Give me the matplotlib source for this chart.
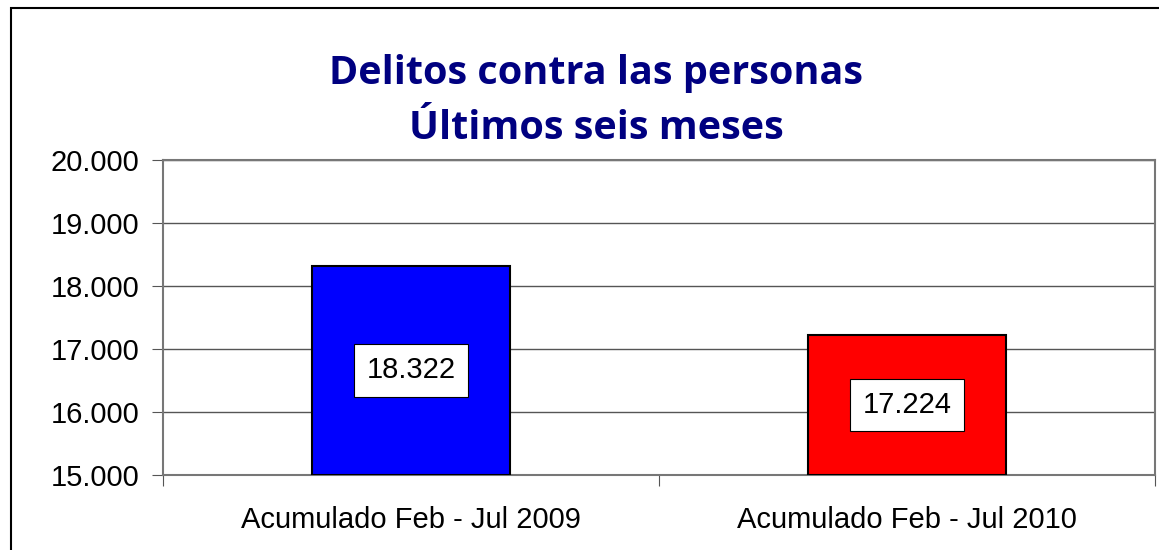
import matplotlib
matplotlib.use('Agg')
import matplotlib.pyplot as plt
from matplotlib.patches import Rectangle

# datos
categorias = ['Acumulado Feb - Jul 2009', 'Acumulado Feb - Jul 2010']
valores = [18322, 17224]
etiquetas = ['18.322', '17.224']
colores = ['#0000FF', '#FF0000']
yticks = [15000, 16000, 17000, 18000, 19000, 20000]
ytick_labels = ['15.000', '16.000', '17.000', '18.000', '19.000', '20.000']
titulo = 'Delitos contra las personas\nÚltimos seis meses'

plt.rcParams['font.family'] = ['Liberation Sans', 'DejaVu Sans']

W, H = 1159, 550
fig = plt.figure(figsize=(W / 100, H / 100), dpi=100)

# borde del area del grafico
fig.patches.append(Rectangle((11 / W, -0.1), 1.2, 1 - 8 / H + 0.1,
                             transform=fig.transFigure, fill=False,
                             edgecolor='black', linewidth=1.5))

ax = fig.add_axes([163 / W, 1 - 475 / H, (1155 - 163) / W, (475 - 160) / H])

x = [0.5, 1.5]
ax.bar(x, [v - 15000 for v in valores], bottom=15000, width=0.4,
       color=colores, edgecolor='black', linewidth=1.5, zorder=3)

for xi, v, lab in zip(x, valores, etiquetas):
    ax.text(xi, (15000 + v) / 2, lab, ha='center', va='center', fontsize=21,
            zorder=4,
            bbox=dict(boxstyle='square,pad=0.42', facecolor='white',
                      edgecolor='black', linewidth=0.8))

ax.set_xlim(0, 2)
ax.set_ylim(15000, 20000)
ax.set_yticks(yticks)
ax.set_yticklabels(ytick_labels, fontsize=21)
ax.set_xticks([0, 1, 2])
ax.set_xticklabels([])
ax.set_xticks(x, minor=True)
ax.set_xticklabels(categorias, minor=True, fontsize=21)
ax.tick_params(axis='x', which='minor', length=0, pad=22)
ax.tick_params(axis='x', which='major', length=8, direction='out', color='#555555')
ax.tick_params(axis='y', length=8, direction='out', color='#555555', pad=9)
ax.grid(axis='y', color='#555555', linewidth=1, zorder=0)
for s in ax.spines.values():
    s.set_color('#777777')
    s.set_linewidth(1.5)

fig.text(596 / W, 1 - 101 / H, titulo, ha='center', va='center',
         fontsize=28.5, fontweight='bold', color='#000080',
         family=['Open Sans', 'DejaVu Sans'], linespacing=1.56)

fig.savefig('out.png', dpi=100)
